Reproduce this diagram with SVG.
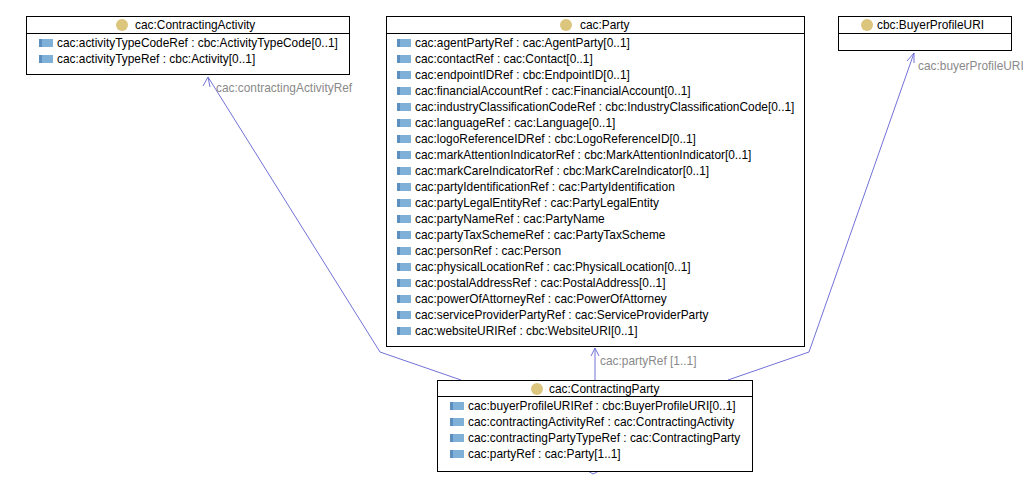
<svg xmlns="http://www.w3.org/2000/svg" width="1023" height="484" viewBox="0 0 1023 484">
<style>
.box{fill:#fff;stroke:#000;stroke-width:1}
.div{stroke:#000;stroke-width:1}
.t{font-family:"Liberation Sans",Arial,sans-serif;font-size:11.9px;fill:#000}
.lbl{font-family:"Liberation Sans",Arial,sans-serif;font-size:11.9px;fill:#8a8a8a}
.cir{fill:#dcc57c}
.edge{fill:none;stroke:#7272d8;stroke-width:1}
</style>
<defs>
<g id="ic"><rect x="0" y="-4" width="14" height="8" fill="#7eb0d8"/><rect x="0" y="-4" width="3" height="8" fill="#5c8fbd"/></g>
</defs>
<rect width="1023" height="484" fill="#fff"/>
<g id="connectors">
<polyline class="edge" points="461,380 380,352 208,77"/>
<polyline class="edge" points="203,86 208,77 210,87"/>
<text class="lbl" x="216" y="92">cac:contractingActivityRef</text>
<line class="edge" x1="595" y1="380" x2="595" y2="348"/>
<polyline class="edge" points="591,356 595,348 599,356"/>
<text class="lbl" x="600" y="365">cac:partyRef [1..1]</text>
<polyline class="edge" points="728,380 809,352 914,53"/>
<polyline class="edge" points="907,61 914,53 914,63"/>
<text class="lbl" x="918" y="70">cac:buyerProfileURIRef [0..1]</text>
<polyline class="edge" points="585,469 593,474 599,471"/>
</g>
<g id="ContractingActivity">
<rect class="box" x="26.5" y="16.5" width="323" height="58"/>
<line class="div" x1="26.5" y1="33.5" x2="349.5" y2="33.5"/>
<circle class="cir" cx="122" cy="25" r="6"/>
<text class="t" x="135" y="29">cac:ContractingActivity</text>
<use href="#ic" x="39" y="43"/><text class="t" x="57" y="47">cac:activityTypeCodeRef : cbc:ActivityTypeCode[0..1]</text>
<use href="#ic" x="39" y="59"/><text class="t" x="57" y="63">cac:activityTypeRef : cbc:Activity[0..1]</text>
</g>
<g id="Party">
<rect class="box" x="386.5" y="16.5" width="418" height="330"/>
<line class="div" x1="386.5" y1="33.5" x2="804.5" y2="33.5"/>
<circle class="cir" cx="566" cy="25" r="6"/>
<text class="t" x="580" y="29">cac:Party</text>
<use href="#ic" x="397" y="43"/><text class="t" x="415" y="47">cac:agentPartyRef : cac:AgentParty[0..1]</text>
<use href="#ic" x="397" y="59"/><text class="t" x="415" y="63">cac:contactRef : cac:Contact[0..1]</text>
<use href="#ic" x="397" y="75"/><text class="t" x="415" y="79">cac:endpointIDRef : cbc:EndpointID[0..1]</text>
<use href="#ic" x="397" y="91"/><text class="t" x="415" y="95">cac:financialAccountRef : cac:FinancialAccount[0..1]</text>
<use href="#ic" x="397" y="107"/><text class="t" x="415" y="111">cac:industryClassificationCodeRef : cbc:IndustryClassificationCode[0..1]</text>
<use href="#ic" x="397" y="123"/><text class="t" x="415" y="127">cac:languageRef : cac:Language[0..1]</text>
<use href="#ic" x="397" y="139"/><text class="t" x="415" y="143">cac:logoReferenceIDRef : cbc:LogoReferenceID[0..1]</text>
<use href="#ic" x="397" y="155"/><text class="t" x="415" y="159">cac:markAttentionIndicatorRef : cbc:MarkAttentionIndicator[0..1]</text>
<use href="#ic" x="397" y="171"/><text class="t" x="415" y="175">cac:markCareIndicatorRef : cbc:MarkCareIndicator[0..1]</text>
<use href="#ic" x="397" y="187"/><text class="t" x="415" y="191">cac:partyIdentificationRef : cac:PartyIdentification</text>
<use href="#ic" x="397" y="203"/><text class="t" x="415" y="207">cac:partyLegalEntityRef : cac:PartyLegalEntity</text>
<use href="#ic" x="397" y="219"/><text class="t" x="415" y="223">cac:partyNameRef : cac:PartyName</text>
<use href="#ic" x="397" y="235"/><text class="t" x="415" y="239">cac:partyTaxSchemeRef : cac:PartyTaxScheme</text>
<use href="#ic" x="397" y="251"/><text class="t" x="415" y="255">cac:personRef : cac:Person</text>
<use href="#ic" x="397" y="267"/><text class="t" x="415" y="271">cac:physicalLocationRef : cac:PhysicalLocation[0..1]</text>
<use href="#ic" x="397" y="283"/><text class="t" x="415" y="287">cac:postalAddressRef : cac:PostalAddress[0..1]</text>
<use href="#ic" x="397" y="299"/><text class="t" x="415" y="303">cac:powerOfAttorneyRef : cac:PowerOfAttorney</text>
<use href="#ic" x="397" y="315"/><text class="t" x="415" y="319">cac:serviceProviderPartyRef : cac:ServiceProviderParty</text>
<use href="#ic" x="397" y="331"/><text class="t" x="415" y="335">cac:websiteURIRef : cbc:WebsiteURI[0..1]</text>
</g>
<g id="BuyerProfileURI">
<rect class="box" x="838.5" y="16.5" width="173" height="34"/>
<line class="div" x1="838.5" y1="33.5" x2="1011.5" y2="33.5"/>
<circle class="cir" cx="867" cy="25" r="6"/>
<text class="t" x="877" y="29">cbc:BuyerProfileURI</text>
</g>
<g id="ContractingParty">
<rect class="box" x="437.5" y="380.5" width="315" height="91"/>
<line class="div" x1="437.5" y1="396.5" x2="752.5" y2="396.5"/>
<circle class="cir" cx="537" cy="389" r="6"/>
<text class="t" x="549" y="393">cac:ContractingParty</text>
<use href="#ic" x="450" y="406"/><text class="t" x="468" y="410">cac:buyerProfileURIRef : cbc:BuyerProfileURI[0..1]</text>
<use href="#ic" x="450" y="422"/><text class="t" x="468" y="426">cac:contractingActivityRef : cac:ContractingActivity</text>
<use href="#ic" x="450" y="438"/><text class="t" x="468" y="442">cac:contractingPartyTypeRef : cac:ContractingParty</text>
<use href="#ic" x="450" y="454"/><text class="t" x="468" y="458">cac:partyRef : cac:Party[1..1]</text>
</g>
</svg>
